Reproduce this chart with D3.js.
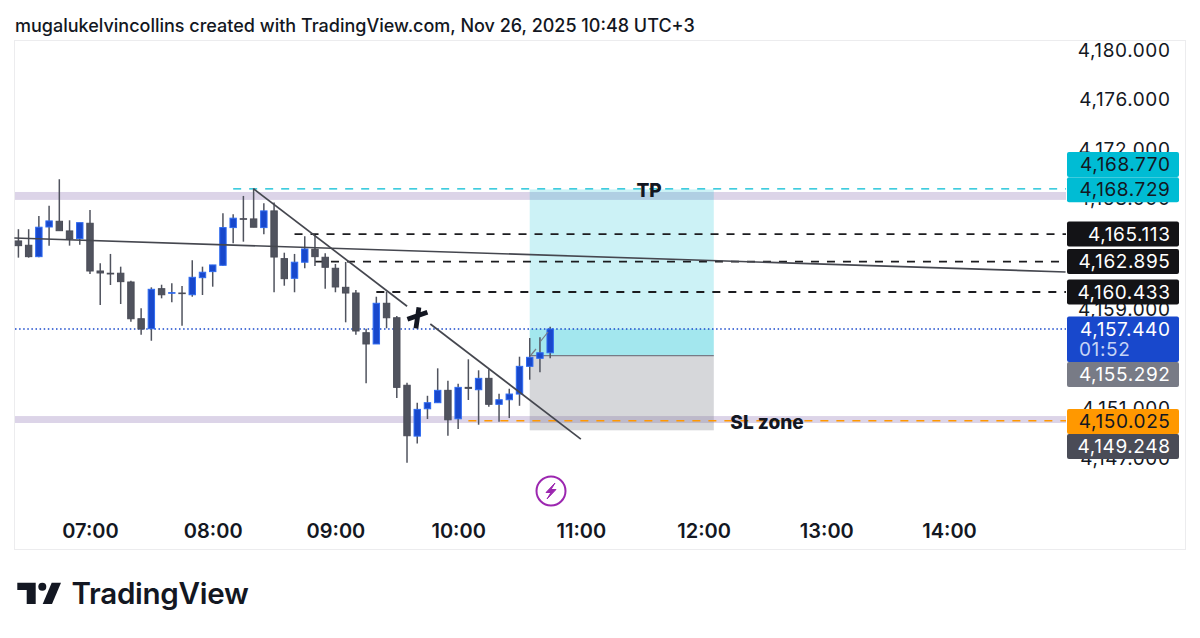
<!DOCTYPE html>
<html>
<head>
<meta charset="utf-8">
<script src="https://d3js.org/d3.v7.min.js"></script>
<style>
  html, body { margin: 0; padding: 0; background: #fff; }
  svg { display: block; }
  text { font-family: Inter, "Noto Sans", sans-serif; }
</style>
</head>
<body>
<svg id="chart" width="1200" height="638"></svg>
<script>
// 5 min candles
const times = ["06:25","06:30","06:35","06:40","06:45","06:50","06:55","07:00","07:05","07:10","07:15","07:20","07:25","07:30","07:35","07:40","07:45","07:50","07:55","08:00","08:05","08:10","08:15","08:20","08:25","08:30","08:35","08:40","08:45","08:50","08:55","09:00","09:05","09:10","09:15","09:20","09:25","09:30","09:35","09:40","09:45","09:50","09:55","10:00","10:05","10:10","10:15","10:20","10:25","10:30","10:35","10:40","10:45"];
const opens = [4164.56,4164.21,4163.29,4165.69,4166.15,4165.37,4164.75,4165.99,4162.13,4161.95,4161.95,4161.24,4158.27,4157.46,4160.70,4160.33,4160.35,4160.21,4161.59,4162.08,4162.59,4165.64,4166.36,4166.34,4165.64,4166.99,4163.13,4161.54,4162.84,4163.89,4163.24,4162.35,4160.81,4160.35,4157.14,4156.23,4159.52,4158.35,4152.89,4148.78,4150.99,4151.48,4152.48,4150.18,4152.72,4152.53,4153.45,4151.35,4151.72,4152.18,4154.42,4155.07,4155.52];
const highs = [4165.51,4165.51,4166.58,4167.41,4169.55,4166.23,4166.04,4167.07,4162.76,4163.51,4162.48,4161.35,4159.11,4160.81,4161.02,4161.14,4160.92,4163.00,4162.48,4162.62,4166.80,4166.72,4168.20,4168.82,4167.61,4167.66,4163.61,4163.51,4164.94,4165.04,4163.56,4162.70,4162.86,4160.60,4157.46,4160.05,4160.46,4158.49,4153.10,4151.48,4152.04,4154.26,4153.26,4153.01,4154.99,4154.10,4154.18,4152.21,4152.61,4155.20,4156.71,4156.77,4157.63];
const lows = [4163.21,4163.21,4163.24,4164.18,4165.39,4164.18,4164.26,4161.89,4159.38,4161.00,4159.46,4158.03,4156.98,4156.49,4159.92,4159.60,4157.71,4160.05,4160.19,4160.86,4162.56,4164.37,4164.50,4165.67,4165.10,4160.41,4160.94,4160.41,4162.35,4162.54,4160.70,4160.41,4157.98,4156.98,4153.05,4156.23,4157.50,4151.86,4146.62,4148.19,4150.16,4151.48,4148.81,4149.35,4151.70,4149.70,4151.15,4149.94,4150.24,4151.23,4153.34,4153.94,4155.07];
const closes = [4164.18,4163.29,4165.67,4166.18,4165.39,4164.75,4166.04,4162.13,4161.97,4161.89,4161.27,4158.27,4157.44,4160.65,4160.21,4160.38,4160.30,4161.62,4162.03,4162.62,4165.64,4166.40,4166.31,4165.67,4166.99,4163.26,4161.51,4162.84,4163.91,4163.29,4162.43,4160.84,4160.35,4157.28,4156.23,4159.52,4158.35,4152.72,4148.81,4150.94,4151.48,4152.48,4150.10,4152.72,4152.64,4153.45,4151.35,4151.72,4152.18,4154.42,4155.15,4155.52,4157.44];

const priceTicks = [4180,4176,4172,4168,4163,4159,4155,4151,4147];
const hourTicks = ["07:00","08:00","09:00","10:00","11:00","12:00","13:00","14:00"];

// horizontal levels: price, first time, colour
const levelPrices = [4168.77, 4165.113, 4162.895, 4160.433, 4150.025];
const levelStarts = ["08:10", "08:40", "08:50", "09:20", "10:05"];
const levelColors = ["#00bcd4", "#1c1c1f", "#1c1c1f", "#1c1c1f", "#ff9800"];
const levelWidths = [1.3, 1.8, 1.8, 1.8, 1.6];

const supplyBand = [4167.88, 4168.52];
const demandBand = [4149.84, 4150.40];

const entryPrice = 4155.292, targetPrice = 4168.729, stopPrice = 4149.248, lastPrice = 4157.44;
const positionTimes = ["10:35", "12:05"];

const trendTimes = ["06:23", "14:57"], trendPrices = [4164.80, 4162.05];
const fallTimes = ["08:20", "11:00"], fallPrices = [4168.77, 4148.54];

const tagLabels = ["4,168.770","4,168.729","4,165.113","4,162.895","4,160.433","4,157.440","4,155.292","4,150.025","4,149.248"];
const tagPrices = [4170.75, 4168.70, 4165.113, 4162.895, 4160.433, 4157.44, 4153.76, 4149.96, 4147.94];
const tagFills = ["#00bcd4","#00bcd4","#131316","#131316","#131316","#1848cc","#787b86","#ff9800","#4a4c57"];
const tagInks = ["#131722","#131722","#fff","#fff","#fff","#fff","#fff","#131722","#fff"];

const svg = d3.select("#chart");
const parse = s => d3.timeParse("%H:%M")(s);

const x = d3.scaleTime().domain([parse("07:00"), parse("14:00")]).range([90, 949]);
const y = d3.scaleLinear().domain([lastPrice, 4180]).range([329, 50]);

// frame + header
svg.append("rect").attr("x", 14.5).attr("y", 40.5).attr("width", 1171).attr("height", 509)
  .attr("fill", "#fff").attr("stroke", "#ececee");
svg.append("text").attr("x", 15).attr("y", 32).attr("font-size", 18).attr("font-weight", 500).attr("fill", "#131722")
  .text("mugalukelvincollins created with TradingView.com, Nov 26, 2025 10:48 UTC+3");

const plotRight = 1066;

// lavender zones
[supplyBand, demandBand].forEach(b => {
  svg.append("rect").attr("x", 15).attr("width", plotRight - 15)
    .attr("y", y(b[1])).attr("height", y(b[0]) - y(b[1])).attr("fill", "#dcd4e8");
});

// long position tool
const posX0 = x(parse(positionTimes[0])), posX1 = x(parse(positionTimes[1]));
svg.append("rect").attr("x", posX0).attr("width", posX1 - posX0)
  .attr("y", y(targetPrice)).attr("height", y(entryPrice) - y(targetPrice))
  .attr("fill", "#00bcd4").attr("fill-opacity", 0.2);
svg.append("rect").attr("x", posX0).attr("width", posX1 - posX0)
  .attr("y", y(lastPrice)).attr("height", y(entryPrice) - y(lastPrice))
  .attr("fill", "#00bcd4").attr("fill-opacity", 0.2);
svg.append("rect").attr("x", posX0).attr("width", posX1 - posX0)
  .attr("y", y(entryPrice)).attr("height", y(stopPrice) - y(entryPrice))
  .attr("fill", "#787b86").attr("fill-opacity", 0.3);
svg.append("line").attr("x1", posX0).attr("x2", posX1).attr("y1", y(entryPrice)).attr("y2", y(entryPrice))
  .attr("stroke", "#787b86").attr("stroke-width", 1.2);

// dashed levels
levelPrices.forEach((p, i) => {
  svg.append("line").attr("x1", x(parse(levelStarts[i]))).attr("x2", plotRight)
    .attr("y1", y(p)).attr("y2", y(p))
    .attr("stroke", levelColors[i]).attr("stroke-width", levelWidths[i]).attr("stroke-dasharray", "8 8");
});

// last price
svg.append("line").attr("x1", 15).attr("x2", plotRight).attr("y1", y(lastPrice)).attr("y2", y(lastPrice))
  .attr("stroke", "#1848cc").attr("stroke-width", 1.5).attr("stroke-dasharray", "1.5 2.6");

// candles
const candles = svg.append("g").selectAll("g").data(times).join("g");
candles.append("line")
  .attr("x1", d => x(parse(d))).attr("x2", d => x(parse(d)))
  .attr("y1", (d, i) => y(highs[i])).attr("y2", (d, i) => y(lows[i]))
  .attr("stroke", "#50535e").attr("stroke-width", 1.5);
candles.append("rect")
  .attr("x", d => x(parse(d)) - 3.2).attr("width", 6.4)
  .attr("y", (d, i) => y(Math.max(opens[i], closes[i])))
  .attr("height", (d, i) => Math.max(0.6, Math.abs(y(opens[i]) - y(closes[i]))))
  .attr("fill", (d, i) => closes[i] >= opens[i] ? "#1848cc" : "#50535e")
  .attr("stroke", (d, i) => closes[i] >= opens[i] ? "#2f6bf0" : "#4a4c57")
  .attr("stroke-width", 1);

// trend lines
const lineStroke = "#45474f";
svg.append("line").attr("x1", x(parse(trendTimes[0]))).attr("x2", x(parse(trendTimes[1])))
  .attr("y1", y(trendPrices[0])).attr("y2", y(trendPrices[1]))
  .attr("stroke", lineStroke).attr("stroke-width", 1.7);

const fx0 = x(parse(fallTimes[0])), fx1 = x(parse(fallTimes[1]));
const fy0 = y(fallPrices[0]), fy1 = y(fallPrices[1]);
const fallAt = t => [fx0 + (fx1 - fx0) * t, fy0 + (fy1 - fy0) * t];
[[0, 0.469], [0.54, 1]].forEach(seg => {
  const a = fallAt(seg[0]), b = fallAt(seg[1]);
  svg.append("line").attr("x1", a[0]).attr("y1", a[1]).attr("x2", b[0]).attr("y2", b[1])
    .attr("stroke", lineStroke).attr("stroke-width", 1.7);
});
// the cross sitting in the gap of the line
const mid = fallAt(0.4975);
svg.append("path")
  .attr("transform", `translate(${mid[0] + 1},${mid[1] + 4})`)
  .attr("d", "M-10,2 L10,-5 M1.5,-10 L-1.5,11")
  .attr("fill", "none").attr("stroke", "#131722").attr("stroke-width", 4.8);

// small arrow line by the last candles
svg.append("path").attr("d", "M531,355 L536,349 M540,342 L544,337 L548,332")
  .attr("fill", "none").attr("stroke", "#787b86").attr("stroke-width", 1.2);

// drawing labels
svg.append("text").attr("x", 649).attr("y", y(targetPrice) + 8).attr("text-anchor", "middle")
  .attr("font-size", 19).attr("font-weight", 800).attr("fill", "#131722").text("TP");
svg.append("text").attr("x", 767).attr("y", 428.5).attr("text-anchor", "middle")
  .attr("font-size", 19).attr("font-weight", 800).attr("fill", "#131722").text("SL zone");

// earnings style marker
const marker = svg.append("g").attr("transform", "translate(551,491)");
marker.append("circle").attr("r", 14.5).attr("fill", "#fff").attr("stroke", "#9c27b0").attr("stroke-width", 2);
marker.append("path").attr("d", "M4,-8 L-5,1.5 L0,1.5 L-4,8 L5,-1.5 L0,-1.5 Z").attr("fill", "#9c27b0").attr("stroke", "#9c27b0").attr("stroke-width", 1);

// axes
const yAxis = d3.axisRight(y).tickValues(priceTicks).tickSize(0).tickPadding(0)
  .tickFormat(d => d3.format(",.3f")(d));
const yG = svg.append("g").attr("transform", "translate(1170.5,0)").call(yAxis);
yG.select(".domain").remove();
yG.selectAll("text").attr("text-anchor", "end").attr("font-size", 19).attr("font-family", "Inter, sans-serif")
  .attr("letter-spacing", 0.6).attr("fill", "#131722");

const xAxis = d3.axisBottom(x).tickValues(hourTicks.map(parse)).tickSize(0).tickPadding(0)
  .tickFormat(d3.timeFormat("%H:%M"));
const xG = svg.append("g").attr("transform", "translate(0,524)").call(xAxis);
xG.select(".domain").remove();
xG.selectAll("text").attr("font-size", 20).attr("font-family", "Inter, sans-serif").attr("font-weight", 600)
  .attr("fill", "#131722");

// price tags on the axis
const tagH = 25;
const tags = svg.append("g").selectAll("g").data(tagLabels).join("g")
  .attr("transform", (d, i) => `translate(1067,${y(tagPrices[i])})`);
tags.append("rect").attr("y", -tagH / 2).attr("width", 112)
  .attr("height", (d, i) => i === 5 ? 45.5 : tagH)
  .attr("rx", 2).attr("fill", (d, i) => tagFills[i]);
tags.append("text").attr("x", 103.5).attr("y", 0).attr("dy", "0.35em").attr("text-anchor", "end")
  .attr("font-size", 19).attr("letter-spacing", 0.6).attr("fill", (d, i) => tagInks[i]).text(d => d);
tags.filter((d, i) => i === 5).append("text").attr("x", 12).attr("y", 20).attr("dy", "0.35em")
  .attr("font-size", 19).attr("letter-spacing", 0.6).attr("fill", "#c5d3f5").text("01:52");

// TradingView logo
const logo = svg.append("g").attr("fill", "#131722");
logo.append("path").attr("d", "M17.3,582.7 H35.7 V604 H26.7 V590 H17.3 Z");
logo.append("circle").attr("cx", 42.3).attr("cy", 586.7).attr("r", 4);
logo.append("path").attr("d", "M51.7,582.7 H61 L52,604 H42.7 Z");
logo.append("text").attr("x", 71.5).attr("y", 604).attr("font-size", 29.6).attr("font-weight", 600).attr("letter-spacing", -0.3).text("TradingView");
</script>
</body>
</html>
